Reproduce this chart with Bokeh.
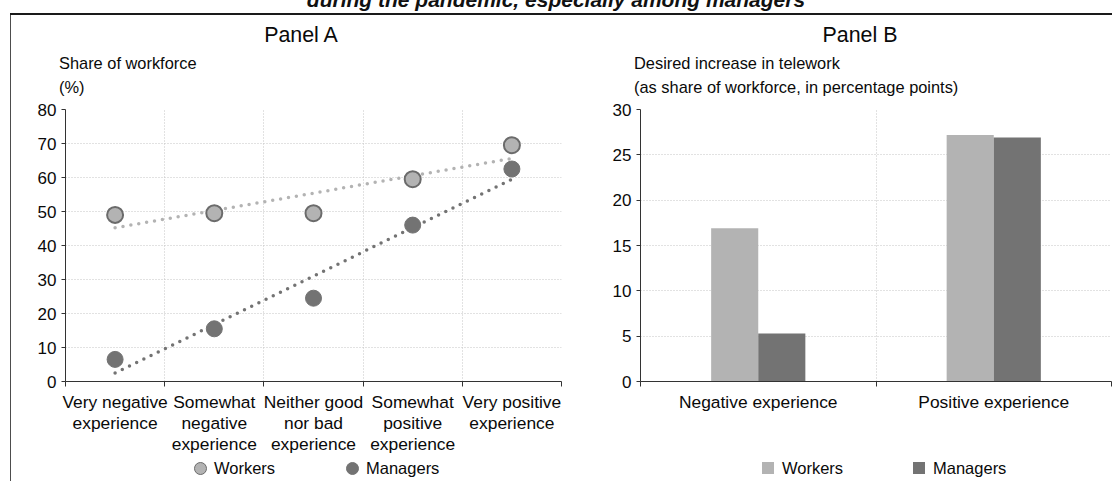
import numpy as np
from bokeh.plotting import figure
from bokeh.models import ColumnDataSource, FixedTicker, Div, Range1d
from bokeh.layouts import row, column
from bokeh.transform import dodge
from bokeh.embed import file_html
from bokeh.resources import INLINE

# ---------------- data ----------------
title_text = "during the pandemic, especially among managers"

a_title = "Panel A"
a_ylabel = ["Share of workforce", "(%)"]
a_categories = ["Very negative\nexperience", "Somewhat\nnegative\nexperience",
                "Neither good\nnor bad\nexperience", "Somewhat\npositive\nexperience",
                "Very positive\nexperience"]
a_workers = [49.0, 49.5, 49.5, 59.5, 69.5]
a_managers = [6.5, 15.5, 24.5, 46.0, 62.5]
a_yticks = [0, 10, 20, 30, 40, 50, 60, 70, 80]

b_title = "Panel B"
b_ylabel = ["Desired increase in telework", "(as share of workforce, in percentage points)"]
b_categories = ["Negative experience", "Positive experience"]
b_workers = [16.9, 27.2]
b_managers = [5.3, 26.9]
b_yticks = [0, 5, 10, 15, 20, 25, 30]

series_names = ["Workers", "Managers"]

# ---------------- style ----------------
FONT = "Liberation Sans"
C_LIGHT = "#b3b3b3"
C_DARK = "#737373"
C_EDGE = "#6b6b6b"
AXIS_C = "#333333"
GRID_C = "#c4c4c4"
TXT = "#0a0a0a"


def style_axes(p, ymax, yticks, ncat, labels):
    p.x_range = Range1d(0, ncat)
    p.y_range = Range1d(0, ymax)
    centers = [i + 0.5 for i in range(ncat)]
    bounds = list(range(ncat + 1))
    xa = p.xaxis[0]
    xa.ticker = FixedTicker(ticks=centers, minor_ticks=bounds)
    xa.major_label_overrides = {c: l for c, l in zip(centers, labels)}
    xa.major_tick_line_color = None
    xa.major_tick_out = 5
    xa.major_tick_in = 0
    xa.minor_tick_line_color = AXIS_C
    xa.minor_tick_out = 5
    xa.minor_tick_in = 0
    xa.major_label_standoff = 5
    xa.axis_line_color = AXIS_C
    xa.major_label_text_font = FONT
    xa.major_label_text_font_size = "17.4px"
    xa.major_label_text_color = TXT
    xa.major_label_text_line_height = 1.05

    ya = p.yaxis[0]
    ya.ticker = FixedTicker(ticks=yticks)
    ya.major_tick_out = 4
    ya.major_tick_in = 0
    ya.minor_tick_line_color = None
    ya.axis_line_color = AXIS_C
    ya.major_tick_line_color = AXIS_C
    ya.major_label_standoff = 5
    ya.major_label_text_font = FONT
    ya.major_label_text_font_size = "17px"
    ya.major_label_text_color = TXT

    p.xgrid.ticker = FixedTicker(ticks=bounds[1:])
    p.ygrid.ticker = FixedTicker(ticks=yticks)
    for g in (p.xgrid[0], p.ygrid[0]):
        g.grid_line_color = GRID_C
        g.grid_line_dash = "1 2"
        g.grid_line_width = 1
    p.outline_line_color = None
    p.background_fill_color = "white"
    p.border_fill_color = "white"


FIG_H = 360
# ---------------- Panel A ----------------
pA = figure(width=561, height=FIG_H, title=None, output_backend="svg", toolbar_location=None,
            min_border_left=54, min_border_right=11, min_border_top=12, min_border_bottom=76)
style_axes(pA, 80, a_yticks, len(a_categories), a_categories)

xa_pos = np.arange(len(a_categories)) + 0.5
srcA = ColumnDataSource(dict(x=xa_pos, w=a_workers, m=a_managers))

for ys, col in ((a_workers, C_LIGHT), (a_managers, C_DARK)):
    k, b = np.polyfit(xa_pos, ys, 1)
    xs = [xa_pos[0], xa_pos[-1]]
    pA.line(xs, [k * v + b for v in xs], line_color=col, line_width=3.5,
            line_dash="0 8", line_cap="round")

pA.scatter("x", "w", source=srcA, size=16, fill_color=C_LIGHT, line_color=C_EDGE, line_width=2)
pA.scatter("x", "m", source=srcA, size=16, fill_color=C_DARK, line_color=C_DARK, line_width=1)

# ---------------- Panel B ----------------
pB = figure(width=540, height=FIG_H, title=None, output_backend="svg", toolbar_location=None,
            min_border_left=68, min_border_right=1, min_border_top=12, min_border_bottom=76)
style_axes(pB, 30, b_yticks, len(b_categories), b_categories)

xb_pos = np.arange(len(b_categories)) + 0.5
srcB = ColumnDataSource(dict(x=xb_pos, w=b_workers, m=b_managers))
pB.vbar(x=dodge("x", -0.1), top="w", width=0.2, source=srcB, fill_color=C_LIGHT, line_color=None)
pB.vbar(x=dodge("x", 0.1), top="m", width=0.2, source=srcB, fill_color=C_DARK, line_color=None)

# ---------------- HTML text blocks ----------------
def span(txt, left, top, size, width=None, align="left", extra=""):
    w = "width:%dpx;" % width if width else ""
    return ('<div style="position:absolute;left:%dpx;top:%dpx;%stext-align:%s;white-space:nowrap;'
            'font-family:\'Liberation Sans\';font-size:%s;line-height:1;color:%s;%s">%s</div>'
            % (left, top, w, align, size, TXT, extra, txt))


def box(html, w, h):
    return '<div style="position:relative;width:%dpx;height:%dpx;overflow:hidden;">%s</div>' % (w, h, html)


TOP_H = 82
top_html = (span(a_title, 190, 10, "21.4px", 200, "center")
            + span(a_ylabel[0], 48, 40, "16.4px")
            + span(a_ylabel[1], 48, 64, "16.4px")
            + span(b_title, 749, 10, "21.4px", 200, "center")
            + span(b_ylabel[0], 623, 40, "16.4px")
            + span(b_ylabel[1], 623, 64, "16.4px"))
topdiv = Div(text=box(top_html, 1101, TOP_H), width=1101, height=TOP_H, margin=(0, 0, 0, 0))


def marker(left, top, size, fill, border, round_=True):
    rad = "border-radius:50%;" if round_ else ""
    return ('<div style="position:absolute;left:%dpx;top:%dpx;width:%dpx;height:%dpx;%s'
            'background:%s;box-sizing:border-box;border:%s;"></div>' % (left, top, size, size, rad, fill, border))


LEG_H = 24
leg_html = (marker(183, 5, 13, C_LIGHT, "1.5px solid " + C_EDGE)
            + span(series_names[0], 203, 3, "16.5px")
            + marker(335, 5, 13, C_DARK, "1px solid " + C_DARK)
            + span(series_names[1], 355, 3, "16.5px")
            + marker(751, 5, 12, C_LIGHT, "none", False)
            + span(series_names[0], 771, 3, "16.5px")
            + marker(902, 5, 12, C_DARK, "none", False)
            + span(series_names[1], 922, 3, "16.5px"))
legdiv = Div(text=box(leg_html, 1101, LEG_H), width=1101, height=LEG_H, margin=(0, 0, 0, 0))

# ---------------- page ----------------
head_html = (
    '<div style="position:relative;width:1112px;height:15px;overflow:hidden;">'
    '<div style="position:absolute;left:0;top:-10px;width:1112px;text-align:center;'
    'font-family:\'Liberation Sans\';font-weight:bold;font-style:italic;font-size:21px;'
    'line-height:20px;white-space:nowrap;color:#111;">' + title_text + '</div>'
    '<div style="position:absolute;left:10px;right:0;bottom:0;height:2px;background:#1a1a1a;"></div>'
    '</div>')
head = Div(text=head_html, width=1112, height=15, margin=(0, 0, 0, 0))

BODY_H = TOP_H + FIG_H + LEG_H
edge = Div(text='<div style="margin-left:10px;width:1px;height:%dpx;background:#4d4d4d;"></div>' % BODY_H,
           width=11, height=BODY_H, margin=(0, 0, 0, 0))

page = column(head, row(edge, column(topdiv, row(pA, pB), legdiv)))

open("out.html", "w").write(file_html(page, INLINE))
